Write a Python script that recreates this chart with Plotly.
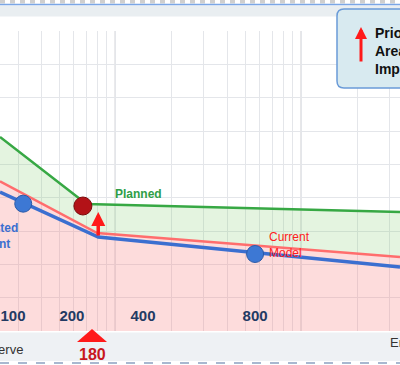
import math
import plotly.graph_objects as go

# ---------------- data ----------------
x_planned = [24, 70, 3400]
y_planned = [58.2, 38.1, 35.7]

x_current = [24, 80, 3400]
y_current = [44.9, 29.4, 22.2]

x_adjusted = [24, 81, 3400]
y_adjusted = [41.7, 28.2, 19.2]

x_blue_pts = [32, 565]
y_blue_pts = [38.2, 23.1]

x_red_pt = [67]
y_red_pt = [37.5]

arrow_x = 81
arrow_tail_y = 28.2
arrow_head_y = 35.7

tick_vals = [28.2, 58.5, 141, 565]
tick_text = ["100", "200", "400", "800"]

marker_x = 75
marker_label = "180"

x_range = [24, 3400]
y_range = [0, 90]

FONT = "Liberation Sans, Arial, sans-serif"
GREEN = "#37a844"
RED_LINE = "#ff6d6d"
BLUE = "#3b6fd0"
ARROW_RED = "#ff1a1a"

# plot area: y from px 31 to px 331 (300 px tall)
def py(p):
    return (331 - p) / 300.0

def px(p):
    return p / 400.0

fig = go.Figure()

# fills
fig.add_trace(go.Scatter(x=x_current, y=y_current, mode="lines", line=dict(width=0),
                         fill="tozeroy", fillcolor="rgba(248,120,120,0.26)", hoverinfo="skip"))
fig.add_trace(go.Scatter(x=x_planned, y=y_planned, mode="lines", line=dict(width=0),
                         fill="tonexty", fillcolor="rgba(120,200,100,0.2)", hoverinfo="skip"))
# lines
fig.add_trace(go.Scatter(x=x_planned, y=y_planned, mode="lines", line=dict(color=GREEN, width=2.5)))
fig.add_trace(go.Scatter(x=x_current, y=y_current, mode="lines", line=dict(color=RED_LINE, width=2.5)))
fig.add_trace(go.Scatter(x=x_adjusted, y=y_adjusted, mode="lines", line=dict(color=BLUE, width=3.5)))
# points
fig.add_trace(go.Scatter(x=x_blue_pts, y=y_blue_pts, mode="markers",
                         marker=dict(size=17, color="#3d78d4", line=dict(color="#2a5aa8", width=1))))
fig.add_trace(go.Scatter(x=x_red_pt, y=y_red_pt, mode="markers",
                         marker=dict(size=18, color="#b31217", line=dict(color="#7a0a0a", width=1))))

minor_grid = [k * d for d in (10, 100, 1000) for k in range(1, 10)]

shapes = []
# decade lines
for d in (100, 1000):
    shapes.append(dict(type="line", xref="x", yref="paper", x0=d, x1=d, y0=0, y1=1,
                       line=dict(color="#c6c6cc", width=1.2), layer="below"))
# top checker strip
for i in range(0, 400, 10):
    shapes.append(dict(type="rect", xref="paper", yref="paper", x0=px(i), x1=px(i + 5),
                       y0=py(3.5), y1=py(0), fillcolor="#cfcfcf", line=dict(width=0)))
# top gray band + blue line
shapes.append(dict(type="rect", xref="paper", yref="paper", x0=0, x1=1, y0=py(16.5), y1=py(5.5),
                   fillcolor="#e9eef1", line=dict(width=0)))
shapes.append(dict(type="line", xref="paper", yref="paper", x0=0, x1=1, y0=py(4.5), y1=py(4.5),
                   line=dict(color="#7aa6e6", width=1.5)))
# bottom band
shapes.append(dict(type="rect", xref="paper", yref="paper", x0=0, x1=1, y0=py(361), y1=py(332.5),
                   fillcolor="#eef1f4", line=dict(width=0)))
shapes.append(dict(type="line", xref="paper", yref="paper", x0=0, x1=1, y0=py(363), y1=py(363),
                   line=dict(color="#a8b8d0", width=2, dash="dash")))
# legend box (rounded)
x0, x1, yt, yb = px(337), 1.2, py(9), py(88)
rx, ry = px(7), 7 / 300.0
shapes.append(dict(type="path", xref="paper", yref="paper",
                   path=(f"M{x0+rx},{yt} L{x1},{yt} L{x1},{yb} L{x0+rx},{yb} "
                         f"Q{x0},{yb} {x0},{yb+ry} L{x0},{yt-ry} Q{x0},{yt} {x0+rx},{yt} Z"),
                   fillcolor="#d8eaf0", line=dict(color="#6a9bd8", width=1.5)))
# 180 marker triangle
shapes.append(dict(type="path", xref="x", yref="paper", xsizemode="pixel", ysizemode="pixel",
                   xanchor=marker_x, yanchor=0, path="M-15,-11 L15,-11 L0,2 Z",
                   fillcolor=ARROW_RED, line=dict(width=0)))

annotations = [
    dict(x=math.log10(arrow_x), y=arrow_head_y, ax=math.log10(arrow_x), ay=arrow_tail_y,
         axref="x", ayref="y", xref="x", yref="y", text="", showarrow=True,
         arrowhead=2, arrowsize=0.8, arrowwidth=3.5, arrowcolor=ARROW_RED),
    dict(x=px(361), y=py(27), xref="paper", yref="paper", ax=0, ay=36, text="", showarrow=True,
         arrowhead=2, arrowsize=0.8, arrowwidth=3, arrowcolor=ARROW_RED),
    dict(x=px(373), y=py(51), xref="paper", yref="paper", xanchor="left", yanchor="middle",
         align="left", showarrow=False, text="Priority<br>Area for<br>Improvement",
         font=dict(family=FONT, size=14, color="#111111", weight="bold")),
    dict(x=math.log10(97.3), y=41.1, xref="x", yref="y", xanchor="left", yanchor="middle",
         showarrow=False, text="Planned", font=dict(family=FONT, size=12, color="#2e9e47", weight="bold")),
    dict(x=math.log10(655), y=25.8, xref="x", yref="y", xanchor="left", yanchor="middle",
         align="left", showarrow=False, text="Current<br>Model",
         font=dict(family=FONT, size=12, color="#ff2020")),
    dict(x=math.log10(30.8), y=28.5, xref="x", yref="y", xanchor="right", yanchor="middle",
         align="left", showarrow=False, text="Adjusted<br>Current",
         font=dict(family=FONT, size=12, color=BLUE, weight="bold")),
    dict(x=math.log10(marker_x), y=py(354), xref="x", yref="paper", xanchor="center", yanchor="middle",
         showarrow=False, text=marker_label, font=dict(family=FONT, size=16, color="#c8161d", weight="bold")),
    dict(x=px(24.5), y=py(349), xref="paper", yref="paper", xanchor="right", yanchor="middle",
         showarrow=False, text="Reserve", font=dict(family=FONT, size=13, color="#333333")),
    dict(x=px(388), y=py(342), xref="paper", yref="paper", xanchor="left", yanchor="middle",
         showarrow=False, text="Error", font=dict(family=FONT, size=13, color="#333333")),
]

fig.update_layout(
    width=400, height=365,
    margin=dict(l=0, r=0, t=31, b=34),
    paper_bgcolor="white", plot_bgcolor="white",
    showlegend=False,
    font=dict(family=FONT),
    xaxis=dict(type="log", range=[math.log10(x_range[0]), math.log10(x_range[1])],
               showgrid=False, zeroline=False, showline=False,
               tickmode="array", tickvals=tick_vals, ticktext=tick_text, ticks="",
               tickfont=dict(family=FONT, size=15, color="#233a63", weight="bold"),
               anchor="free", position=py(305),
               minor=dict(tickmode="array", tickvals=minor_grid, showgrid=True,
                          gridcolor="#e4e6ea", gridwidth=1, ticks="")),
    yaxis=dict(range=y_range, dtick=10, showgrid=True, gridcolor="#e4e6ea", gridwidth=1,
               showticklabels=False, zeroline=False, showline=False, ticks=""),
    shapes=shapes,
    annotations=annotations,
)

fig.write_html("out.html")
